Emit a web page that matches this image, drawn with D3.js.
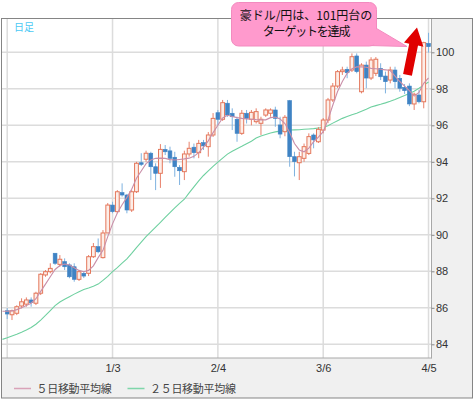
<!DOCTYPE html>
<html><head><meta charset="utf-8">
<script src="https://cdn.jsdelivr.net/npm/d3@7"></script>
<style>body{margin:0;background:#fff}svg{display:block}</style>
</head><body><svg id="c" width="475" height="399"></svg>
<script>
// ---- data (trading-day index 0..88) ----
const opens=[85.84,85.62,85.70,86.10,86.20,86.43,86.25,86.80,87.80,87.98,
88.99,88.38,88.53,88.35,88.25,87.56,87.89,87.89,88.80,89.35,
88.75,90.10,91.63,91.27,92.31,92.18,91.36,92.36,93.95,94.14,
94.47,93.73,93.37,94.68,94.60,94.25,93.70,93.46,94.43,94.80,
94.50,95.05,94.83,95.47,96.69,96.33,97.21,96.66,96.33,95.56,
96.66,96.33,96.20,96.11,96.56,96.66,96.84,96.02,95.65,97.35,
94.28,93.95,94.19,94.46,95.47,95.10,95.74,96.29,97.39,98.15,
98.94,99.07,99.03,99.80,97.84,99.30,98.59,98.85,99.12,98.70,
98.48,99.03,98.57,98.08,98.15,97.17,97.66,97.29,100.49];
const closes=[85.66,85.84,86.06,86.33,86.43,86.28,86.80,87.84,87.98,88.16,
88.44,88.66,88.25,87.70,87.56,87.98,87.74,88.80,89.35,89.07,
90.10,91.63,91.27,92.36,92.18,91.36,92.36,93.92,93.86,94.47,
93.73,93.37,94.68,94.55,94.19,93.73,93.51,94.43,94.74,94.50,
95.01,94.87,95.47,96.38,96.33,97.24,96.56,96.47,95.56,96.66,
96.38,96.71,96.75,96.33,96.84,96.84,96.38,95.52,96.44,94.28,
94.01,94.28,94.83,95.38,95.20,95.78,96.29,97.39,98.15,98.94,
99.03,98.88,99.76,98.94,99.30,98.59,99.58,99.62,98.66,98.39,
99.03,98.39,98.03,97.90,97.17,97.70,97.29,100.53,100.31];
const highs=[85.99,85.90,86.14,86.52,86.57,86.57,86.88,87.90,88.07,88.44,
89.00,88.89,88.71,88.44,88.44,88.07,88.00,88.89,89.55,89.80,
90.26,91.74,91.81,92.45,92.82,92.24,92.45,94.00,94.47,94.61,
94.55,93.92,94.97,94.92,94.83,94.55,93.82,94.61,95.10,95.00,
95.20,95.20,95.63,96.67,96.84,97.39,97.39,96.93,96.47,96.84,
96.84,96.84,96.93,96.47,96.93,96.93,97.02,96.47,96.56,97.39,
94.55,94.55,95.00,95.56,95.56,95.90,96.40,97.50,98.32,99.03,
99.21,99.21,99.94,99.94,99.40,99.49,99.73,99.74,99.40,98.94,
99.21,99.21,98.76,98.26,98.30,97.79,97.93,100.58,101.07];
const lows=[85.39,85.33,85.60,85.97,86.06,86.06,86.15,86.70,87.70,87.89,
88.35,88.25,88.07,87.62,87.43,87.47,87.63,87.74,88.73,88.99,
88.70,90.10,91.18,91.18,92.09,91.18,91.25,92.29,93.77,94.00,
93.00,92.45,92.57,94.37,93.92,93.18,92.73,93.00,94.28,94.19,
94.20,94.65,94.28,95.36,96.00,96.24,96.46,95.74,95.10,95.47,
96.10,96.00,96.10,95.47,96.46,96.47,95.92,95.29,95.40,93.73,
93.20,93.00,94.00,94.37,94.74,95.03,95.56,96.12,97.28,98.05,
98.76,98.58,98.92,98.85,97.75,98.03,98.48,98.70,98.48,97.75,
98.30,98.03,97.84,97.72,97.05,96.84,97.20,96.93,99.98];
// moving averages, first value belongs to index -1
const maStart=-1;
const ma5=[85.81,85.81,85.83,85.90,86.00,86.12,86.25,86.50,86.90,87.30,87.70,
88.10,88.32,88.40,88.35,88.20,88.05,87.98,88.05,88.30,88.75,
89.15,89.90,90.60,91.20,91.65,92.05,92.50,93.10,93.50,93.90,
94.10,94.19,94.20,94.19,94.12,94.10,94.13,94.16,94.20,94.30,
94.50,94.80,95.15,95.60,96.00,96.40,96.55,96.48,96.42,96.38,
96.35,96.33,96.31,96.30,96.30,96.42,96.45,96.35,96.10,95.60,
95.00,94.65,94.55,94.75,95.10,95.35,95.65,96.30,97.10,97.85,
98.40,98.85,99.10,99.20,99.21,99.18,99.12,99.10,99.07,99.04,
99.00,98.70,98.40,98.15,97.90,97.60,97.80,98.30,98.60];
const ma25=[84.27,84.36,84.46,84.55,84.66,84.78,84.92,85.10,85.33,85.58,85.85,
86.12,86.32,86.47,86.61,86.75,86.88,87.00,87.08,87.18,87.30,
87.50,87.72,87.98,88.20,88.45,88.68,88.98,89.30,89.60,89.90,
90.16,90.42,90.68,90.95,91.22,91.48,91.72,91.95,92.30,92.63,
92.95,93.25,93.50,93.75,93.98,94.20,94.42,94.58,94.72,94.85,
94.99,95.13,95.30,95.42,95.50,95.58,95.64,95.68,95.71,95.74,
95.75,95.76,95.78,95.80,95.82,95.85,95.88,95.98,96.12,96.25,
96.38,96.48,96.58,96.66,96.77,96.88,97.00,97.08,97.15,97.23,
97.32,97.42,97.53,97.63,97.74,97.87,98.03,98.20,98.37];
const xTickIdx=[0,22,44,66,88];
const xTickLabels=["","1/3","2/4","3/6","4/5"];
const yTicks=[84,86,88,90,92,94,96,98,100];
const legendLabels=["５日移動平均線","２５日移動平均線"];
const periodLabel="日足";
const noteLines=["豪ドル/円は、101円台の","ターゲットを達成"];

// ---- drawing ----
const svg=d3.select("#c");
const P={l:2,t:19,r:431.5,b:358};
const x=d3.scaleLinear().domain([-1.086,88.62]).range([P.l,P.r]);
const y=d3.scaleLinear().domain([83.25,101.88]).range([358,18]);
const font="'Liberation Sans',Arial,sans-serif";
const jfont="'Noto Sans CJK JP',sans-serif";

svg.append("rect").attr("x",1.5).attr("y",18.5).attr("width",471).attr("height",379.5)
  .attr("fill","#f0f0f0").attr("stroke","#858585");
svg.append("rect").attr("x",P.l).attr("y",P.t).attr("width",P.r-P.l).attr("height",P.b-P.t).attr("fill","#fff");
svg.append("clipPath").attr("id","pc").append("rect")
  .attr("x",P.l).attr("y",P.t).attr("width",P.r-P.l).attr("height",P.b-P.t);

const grid=svg.append("g").attr("stroke","#dcdcdc").attr("stroke-width",1.5);
yTicks.forEach(v=>grid.append("line").attr("x1",P.l).attr("x2",P.r).attr("y1",y(v)).attr("y2",y(v)));
xTickIdx.forEach(i=>grid.append("line").attr("x1",x(i)).attr("x2",x(i)).attr("y1",P.t).attr("y2",P.b));

svg.append("line").attr("x1",P.r).attr("x2",P.r).attr("y1",P.t).attr("y2",P.b+0.5).attr("stroke","#a8a8a8");
svg.append("line").attr("x1",P.l).attr("x2",P.r).attr("y1",P.b).attr("y2",P.b).attr("stroke","#a8a8a8");

const ya=svg.append("g").attr("transform",`translate(${P.r},0)`)
  .call(d3.axisRight(y).tickValues(yTicks).tickSize(3).tickPadding(1.5));
ya.select(".domain").remove();
ya.selectAll("line").attr("stroke","#888");
ya.selectAll("text").attr("font-family",font).attr("font-size",11).attr("fill","#333");

const xa=svg.append("g").attr("transform",`translate(0,${P.b})`)
  .call(d3.axisBottom(x).tickValues(xTickIdx).tickFormat((d,i)=>xTickLabels[i]).tickSize(0).tickPadding(6));
xa.select(".domain").remove();
xa.selectAll("text").attr("font-family",font).attr("font-size",11).attr("fill","#333");

svg.append("text").attr("x",14).attr("y",31).text(periodLabel)
  .attr("font-family",jfont).attr("font-size",10).attr("fill","#4cc8f4");

const g=svg.append("g").attr("clip-path","url(#pc)");
const line=d3.line().x((d,i)=>x(i+maStart)).y(d=>y(d));
g.append("path").datum(ma25).attr("d",line).attr("fill","none").attr("stroke","#6fd0a0").attr("stroke-width",1.1);

const bw=3.8;
const idx=d3.range(opens.length);
const up=i=>closes[i]>=opens[i];
g.selectAll(".wick").data(idx).join("line")
  .attr("x1",i=>x(i)).attr("x2",i=>x(i)).attr("y1",i=>y(highs[i])).attr("y2",i=>y(lows[i]))
  .attr("stroke",i=>up(i)?"#e8806a":"#7eb2e0").attr("stroke-width",1);
g.selectAll(".body").data(idx).join("rect")
  .attr("x",i=>x(i)-bw/2).attr("width",bw)
  .attr("y",i=>y(Math.max(opens[i],closes[i])))
  .attr("height",i=>Math.max(1,Math.abs(y(opens[i])-y(closes[i]))))
  .attr("fill",i=>up(i)?"#fdeee8":"#3f83c4")
  .attr("stroke",i=>up(i)?"#e4775b":"#3f83c4").attr("stroke-width",i=>up(i)?1:0.6);

g.append("path").datum(ma5).attr("d",line).attr("fill","none").attr("stroke","#c98ea8").attr("stroke-width",1.1);

// legend
const lg=svg.append("g");
[[14,31,36.5,"#d9a3b8"],[127.5,144.5,150,"#7fd6aa"]].forEach((c,k)=>{
  lg.append("line").attr("x1",c[0]).attr("x2",c[1]).attr("y1",388.5).attr("y2",388.5).attr("stroke",c[3]).attr("stroke-width",1.5);
  lg.append("text").attr("x",c[2]).attr("y",393).text(legendLabels[k])
    .attr("font-family",jfont).attr("font-size",11).attr("letter-spacing",-0.3).attr("fill","#444");
});

// annotation bubble
const bub=svg.append("g");
bub.append("polygon").attr("points","374,27 407,46.5 369,45.5").attr("fill","#ff9acd").attr("stroke","#f28bbf");
bub.append("rect").attr("x",231.5).attr("y",2.5).attr("width",145).attr("height",43.5).attr("rx",7)
  .attr("fill","#ff9acd").attr("stroke","#f28bbf");
bub.append("polygon").attr("points","375.5,28.5 404,45.6 369,44.6 371,30").attr("fill","#ff9acd");
bub.append("text").attr("x",306).attr("y",19.5).attr("text-anchor","middle").text(noteLines[0])
  .attr("font-family",jfont).attr("font-size",12).attr("fill","#111");
bub.append("text").attr("x",306).attr("y",36).attr("text-anchor","middle").text(noteLines[1])
  .attr("font-family",jfont).attr("font-size",12).attr("letter-spacing",-1.2).attr("fill","#111");

// red arrow
svg.append("polygon")
  .attr("points","403.1,74 409.2,43.7 404,42.6 417,27.5 423.4,46.7 418,45.5 411.9,75.8")
  .attr("fill","#e00000");
</script></body></html>
